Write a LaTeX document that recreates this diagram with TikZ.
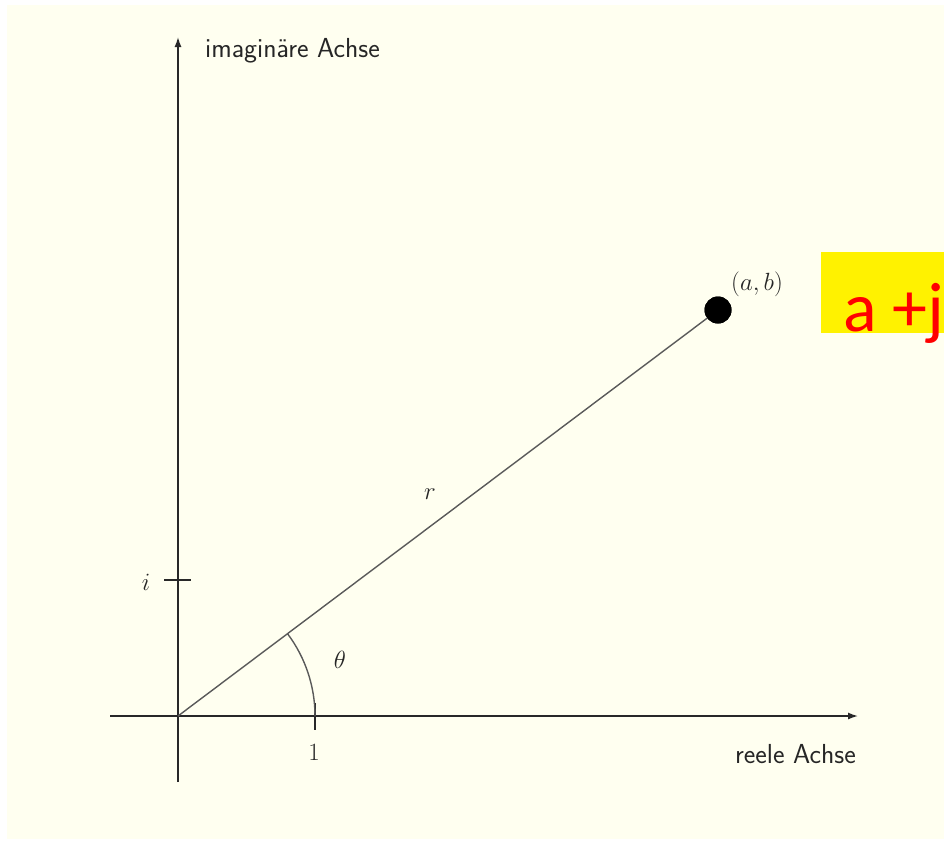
\documentclass[tikz,border=0pt]{standalone}
\usepackage{fontspec}
\newfontfamily\calib{Carlito}
\usetikzlibrary{arrows.meta}
\definecolor{bgcream}{RGB}{255,255,240}
\definecolor{axisgray}{RGB}{40,40,40}
\definecolor{raygray}{RGB}{90,90,90}
\tikzset{
  axis/.style={draw=axisgray, line width=1.4pt, -{Latex[length=10pt,width=7pt]}},
  plain/.style={draw=axisgray, line width=1.4pt},
  ray/.style={draw=raygray, line width=1.4pt},
  lab/.style={inner sep=0pt, font=\sffamily\fontsize{27.5}{32}\selectfont, text=black!85},
  mlab/.style={inner sep=0pt, font=\fontsize{27}{32}\selectfont, text=black!85}
}
\begin{document}
\begin{tikzpicture}[x=1pt,y=-1pt]
\useasboundingbox (0,0) rectangle (944,841);
\fill[white] (0,0) rectangle (944,841);
\fill[bgcream] (7,5) rectangle (944,839);
% axes
\coordinate (O) at (178,716);
\coordinate (xs) at (110,716);
\coordinate (xe) at (858,716);
\coordinate (ys) at (178,782);
\coordinate (ye) at (178,37);
\draw[axis] (xs) -- (xe);
\draw[axis] (ys) -- (ye);
% ticks
\coordinate (t1a) at (315,703);
\coordinate (t1b) at (315,730);
\draw[plain] (t1a) -- (t1b);
\coordinate (tia) at (164,580);
\coordinate (tib) at (191,580);
\draw[plain] (tia) -- (tib);
% ray and point
\node[circle, fill=black, minimum size=27pt, inner sep=0pt] (P) at (718,310) {};
\draw[ray] (O) -- (P.center);
\fill (P.center) circle (13.5pt);
% arc
\draw[ray] (315,716) arc[start angle=0, end angle=-36.94, radius=137];
% labels
\node[lab, anchor=base west] (ylab) at (205,57) {imaginäre Achse};
\node[lab, anchor=base east] (xlab) at (856,763) {reele Achse};
\node[mlab] (one) at (314,752) {$1$};
\node[mlab] (ilab) at (146,582) {$i$};
\node[mlab] (th) at (340,660) {$\theta$};
\node[mlab] (rl) at (430,494) {$r$};
\node[mlab, anchor=base west] (ab) at (731,290) {$(a,b)$};
% yellow box
\begin{scope}
\clip (0,0) rectangle (944,841);
\fill[yellow] (821,252) rectangle (950,333);
\node[inner sep=0pt, anchor=base west, text=red, font=\calib\fontsize{70}{80}\selectfont] (aj) at (843,331) {a +j};
\end{scope}
\end{tikzpicture}
\end{document}
